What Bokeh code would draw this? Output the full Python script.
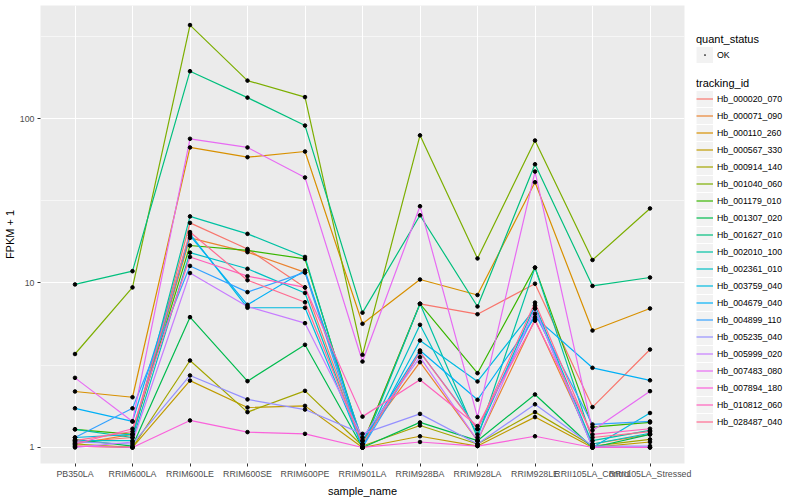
from bokeh.plotting import figure
from bokeh.layouts import row
from bokeh.models import (FactorRange, Range1d, FixedTicker, Legend, LegendItem,
                          PrintfTickFormatter)
from bokeh.embed import file_html
from bokeh.resources import INLINE

samples = ["PB350LA", "RRIM600LA", "RRIM600LE", "RRIM600SE", "RRIM600PE",
           "RRIM901LA", "RRIM928BA", "RRIM928LA", "RRIM928LE",
           "RRII105LA_Control", "RRII105LA_Stressed"]

tracking_ids = ["Hb_000020_070", "Hb_000071_090", "Hb_000110_260", "Hb_000567_330",
                "Hb_000914_140", "Hb_001040_060", "Hb_001179_010", "Hb_001307_020",
                "Hb_001627_010", "Hb_002010_100", "Hb_002361_010", "Hb_003759_040",
                "Hb_004679_040", "Hb_004899_110", "Hb_005235_040", "Hb_005999_020",
                "Hb_007483_080", "Hb_007894_180", "Hb_010812_060", "Hb_028487_040"]

colors = ["#F8766D", "#EA8331", "#D89000", "#C09B00", "#A3A500", "#7CAE00", "#39B600",
          "#00BB4E", "#00BF7D", "#00C1A3", "#00BFC4", "#00BAE0", "#00B0F6", "#35A2FF",
          "#9590FF", "#C77CFF", "#E76BF3", "#FA62DB", "#FF62BC", "#FF6C91"]

# FPKM + 1 per tracking_id, in the order of `samples`
hb_000020_070 = [1.08, 1.15, 23.2, 16.1, 9.4, 1.05, 7.47, 6.46, 9.9, 1.76, 3.94]
hb_000071_090 = [1.05, 1.2, 18.8, 15.4, 11.6, 1.1, 3.3, 1.1, 6.0, 1.05, 1.2]
hb_000110_260 = [2.19, 2.02, 66.7, 58.2, 63.0, 5.65, 10.5, 8.45, 41.0, 5.14, 7.0]
hb_000567_330 = [1.02, 1.0, 2.55, 1.75, 1.79, 1.0, 1.17, 1.02, 1.53, 1.0, 1.08]
hb_000914_140 = [1.05, 1.0, 3.38, 1.64, 2.21, 1.02, 1.36, 1.05, 1.64, 1.02, 1.12]
hb_001040_060 = [3.7, 9.4, 370.0, 170.0, 135.0, 3.66, 79.0, 14.1, 73.5, 13.8, 28.4]
hb_001179_010 = [1.29, 1.2, 16.9, 15.8, 14.0, 1.05, 7.47, 2.83, 12.4, 1.33, 1.42]
hb_001307_020 = [1.12, 1.02, 6.2, 2.53, 4.21, 1.0, 1.42, 1.1, 2.1, 1.0, 1.2]
hb_001627_010 = [9.8, 11.8, 194.0, 134.0, 90.6, 6.6, 25.8, 7.2, 52.7, 9.6, 10.8]
hb_002010_100 = [1.29, 1.15, 25.4, 19.9, 14.4, 1.0, 7.47, 1.15, 12.4, 1.1, 1.27]
hb_002361_010 = [1.1, 1.1, 15.3, 12.2, 8.7, 1.0, 5.57, 1.2, 7.3, 1.05, 1.22]
hb_003759_040 = [1.15, 1.2, 19.9, 7.07, 7.07, 1.0, 4.47, 2.52, 7.0, 1.0, 1.62]
hb_004679_040 = [1.73, 1.44, 19.4, 7.37, 11.9, 1.1, 3.89, 1.95, 6.2, 3.05, 2.56]
hb_004899_110 = [1.15, 1.73, 12.7, 8.8, 11.6, 1.0, 3.8, 1.3, 6.5, 1.38, 1.44]
hb_005235_040 = [1.08, 1.05, 2.74, 1.96, 1.70, 1.21, 1.60, 1.05, 1.83, 1.02, 1.02]
hb_005999_020 = [1.0, 1.08, 11.5, 7.2, 5.7, 1.15, 3.54, 1.1, 7.0, 1.0, 1.0]
hb_007483_080 = [2.65, 1.44, 75.3, 66.7, 43.8, 3.33, 29.3, 1.53, 47.6, 1.27, 2.2]
hb_007894_180 = [1.02, 1.0, 1.46, 1.24, 1.21, 1.0, 1.08, 1.02, 1.17, 1.0, 1.0]
hb_010812_060 = [1.05, 1.3, 14.4, 11.0, 9.4, 1.54, 2.58, 1.35, 5.9, 1.2, 1.3]
hb_028487_040 = [1.1, 1.25, 20.4, 10.4, 7.64, 1.05, 3.8, 1.29, 7.6, 1.15, 1.25]

series = [hb_000020_070, hb_000071_090, hb_000110_260, hb_000567_330, hb_000914_140,
          hb_001040_060, hb_001179_010, hb_001307_020, hb_001627_010, hb_002010_100,
          hb_002361_010, hb_003759_040, hb_004679_040, hb_004899_110, hb_005235_040,
          hb_005999_020, hb_007483_080, hb_007894_180, hb_010812_060, hb_028487_040]

y_ticks = [1, 10, 100]
y_minor = [10 ** 0.5, 10 ** 1.5, 10 ** 2.5]

FONT = "Liberation Sans"

p = figure(width=696, height=500, output_backend="svg", toolbar_location=None,
           x_range=FactorRange(*samples, range_padding=0.2 / 11),
           y_axis_type="log", y_range=Range1d(0.799, 486.6),
           min_border_left=40, min_border_right=12, min_border_top=5,
           min_border_bottom=37)

p.background_fill_color = "#EBEBEB"
p.border_fill_color = "white"
p.outline_line_color = None

ticker = FixedTicker(ticks=y_ticks, minor_ticks=y_minor)
p.yaxis.ticker = ticker
p.ygrid.ticker = ticker
p.yaxis.formatter = PrintfTickFormatter(format="%d")

for g in (p.xgrid, p.ygrid):
    g.grid_line_color = "white"
    g.grid_line_width = 1.1
p.ygrid.minor_grid_line_color = "white"
p.ygrid.minor_grid_line_width = 0.55

for ax in (p.xaxis, p.yaxis):
    ax.axis_line_color = None
    ax.major_tick_line_color = "#333333"
    ax.major_tick_out = 3
    ax.major_tick_in = 0
    ax.minor_tick_line_color = None
    ax.major_label_text_font = FONT
    ax.major_label_text_font_size = "8.8px"
    ax.major_label_text_color = "#4D4D4D"
    ax.axis_label_text_font = FONT
    ax.axis_label_text_font_size = "11px"
    ax.axis_label_text_font_style = "normal"
    ax.axis_label_text_color = "black"
    ax.major_label_standoff = 2
    ax.axis_label_standoff = 3

p.xaxis.axis_label = "sample_name"
p.yaxis.axis_label = "FPKM + 1"
p.yaxis.major_label_standoff = 2
p.yaxis.axis_label_standoff = 1

for vals, col in zip(series, colors):
    p.line(samples, vals, line_color=col, line_width=1.2)

for vals in series:
    p.scatter(samples, vals, size=3.6, color="black")

# legend panel (its dummy glyphs sit outside the visible range)
lf = figure(width=104, height=500, output_backend="svg", toolbar_location=None,
            x_range=Range1d(0, 1), y_range=Range1d(0, 1),
            x_axis_location=None, y_axis_location=None,
            min_border_left=0, min_border_right=0, min_border_top=0, min_border_bottom=0)
lf.outline_line_color = None
lf.background_fill_color = "white"
lf.border_fill_color = "white"
lf.xgrid.visible = False
lf.ygrid.visible = False

off_x = [-10, -9]
off_y = [-10, -10]
bg = lf.line(x=off_x, y=off_y, line_color="#F2F2F2", line_width=16)
ok_r = lf.scatter(x=off_x[:1], y=off_y[:1], marker="dot", size=3.6, color="black",
                  line_width=1.5)
key_lines = [lf.line(x=off_x, y=off_y, line_color=c, line_width=1.2) for c in colors]

leg1 = Legend(items=[LegendItem(label="OK", renderers=[bg, ok_r])],
              title="quant_status", location=(0, 400))
leg2 = Legend(items=[LegendItem(label=tid, renderers=[bg, r])
                     for tid, r in zip(tracking_ids, key_lines)],
              title="tracking_id", location=(0, 33))

for lg in (leg1, leg2):
    lg.padding = 0
    lg.margin = 0
    lg.spacing = 0
    lg.glyph_width = 17
    lg.glyph_height = 17
    lg.label_height = 17
    lg.label_standoff = 4
    lg.title_standoff = 1
    lg.border_line_color = None
    lg.background_fill_alpha = 0
    lg.label_text_font = FONT
    lg.label_text_font_size = "8.8px"
    lg.label_text_color = "black"
    lg.title_text_font = FONT
    lg.title_text_font_size = "11px"
    lg.title_text_font_style = "normal"
    lg.title_text_color = "black"
    lf.add_layout(lg)

layout = row(p, lf)
open("out.html", "w").write(file_html(layout, INLINE))
